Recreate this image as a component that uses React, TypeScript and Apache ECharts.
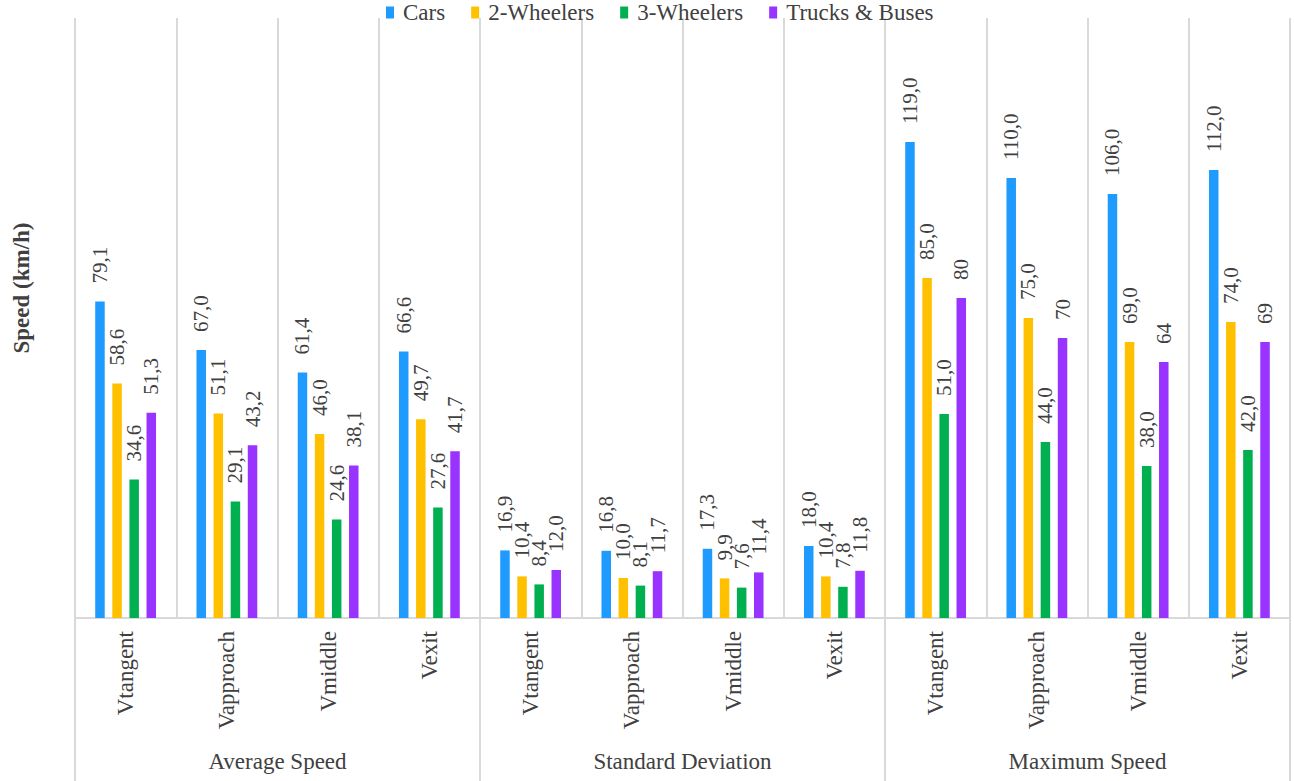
import React, { useEffect, useRef } from "react";
import * as echarts from "echarts";

// Measurement points along the curve, repeated for each statistic group
const categories = [
  "Vtangent", "Vapproach", "Vmiddle", "Vexit",
  "Vtangent", "Vapproach", "Vmiddle", "Vexit",
  "Vtangent", "Vapproach", "Vmiddle", "Vexit",
];
const groups = ["Average Speed", "Standard Deviation", "Maximum Speed"];

const cars = [79.1, 67.0, 61.4, 66.6, 16.9, 16.8, 17.3, 18.0, 119, 110, 106, 112];
const twoWheelers = [58.6, 51.1, 46.0, 49.7, 10.4, 10.0, 9.9, 10.4, 85, 75, 69, 74];
const threeWheelers = [34.6, 29.1, 24.6, 27.6, 8.4, 8.1, 7.6, 7.8, 51, 44, 38, 42];
const trucksBuses = [51.3, 43.2, 38.1, 41.7, 12.0, 11.7, 11.4, 11.8, 80, 70, 64, 69];
// decimals shown in the value labels for trucks & buses (max speeds are whole numbers)
const trucksDecimals = [1, 1, 1, 1, 1, 1, 1, 1, 0, 0, 0, 0];

const seriesDefs = [
  { name: "Cars", data: cars, color: "#1F9BFF" },
  { name: "2-Wheelers", data: twoWheelers, color: "#FFC000" },
  { name: "3-Wheelers", data: threeWheelers, color: "#00B050" },
  { name: "Trucks & Buses", data: trucksBuses, color: "#9933FF" },
];

const FONT = "'Liberation Serif', 'Times New Roman', serif";
const TEXT = "#404040";
const GRID_COLOR = "#D9D9D9";

const W = 1294;
const H = 781;
const GRID = { left: 75, right: 4, top: 18, bottom: 163 };

export default function App() {
  const ref = useRef<HTMLDivElement>(null);

  useEffect(() => {
    if (!ref.current) return;
    const chart = echarts.init(ref.current, undefined, { renderer: "svg" });

    const fmt = (v: number, d: number) => v.toFixed(d).replace(".", ",");

    chart.setOption({
      animation: false,
      backgroundColor: "#ffffff",
      textStyle: { fontFamily: FONT, color: TEXT },
      legend: {
        top: 1,
        left: 386,
        padding: 0,
        icon: "rect",
        itemWidth: 8,
        itemHeight: 12,
        itemGap: 26,
        textStyle: { fontFamily: FONT, fontSize: 23, color: TEXT, padding: [0, 0, 0, 4] },
        data: seriesDefs.map((s) => s.name),
      },
      grid: { ...GRID },
      xAxis: [
        {
          type: "category",
          data: categories,
          position: "bottom",
          axisLine: { show: true, lineStyle: { color: GRID_COLOR, width: 2 } },
          axisTick: { show: false },
          splitLine: { show: true, interval: 0, lineStyle: { color: GRID_COLOR, width: 2 } },
          axisLabel: {
            interval: 0,
            rotate: 90,
            margin: 13,
            fontFamily: FONT,
            fontSize: 23,
            color: TEXT,
          },
        },
        {
          type: "category",
          data: groups,
          position: "bottom",
          axisLine: { show: false },
          axisTick: {
            show: true,
            interval: 0,
            length: GRID.bottom,
            lineStyle: { color: GRID_COLOR, width: 2 },
          },
          axisLabel: {
            interval: 0,
            margin: 132,
            fontFamily: FONT,
            fontSize: 23,
            color: TEXT,
          },
        },
      ],
      yAxis: {
        type: "value",
        min: 0,
        max: 150,
        show: false,
        splitLine: { show: false },
      },
      graphic: [
        {
          type: "text",
          x: 21,
          y: 288,
          rotation: Math.PI / 2,
          style: {
            text: "Speed (km/h)",
            fontFamily: FONT,
            fontSize: 23,
            fontWeight: "bold",
            fill: TEXT,
            align: "center",
            verticalAlign: "middle",
          },
        },
      ],
      series: seriesDefs.map((s, si) => ({
        name: s.name,
        type: "bar",
        xAxisIndex: 0,
        data: s.data,
        barWidth: 9.5,
        barGap: "80%",
        itemStyle: { color: s.color },
        label: {
          show: true,
          position: "top",
          rotate: 90,
          align: "left",
          verticalAlign: "middle",
          distance: 18,
          fontFamily: FONT,
          fontSize: 21,
          color: TEXT,
          formatter: (p: any) =>
            fmt(p.value as number, si === 3 ? trucksDecimals[p.dataIndex] : 1),
        },
      })),
    });

    return () => chart.dispose();
  }, []);

  return (
    <div
      ref={ref}
      style={{ position: "fixed", left: 0, top: 0, width: W, height: H }}
    />
  );
}
